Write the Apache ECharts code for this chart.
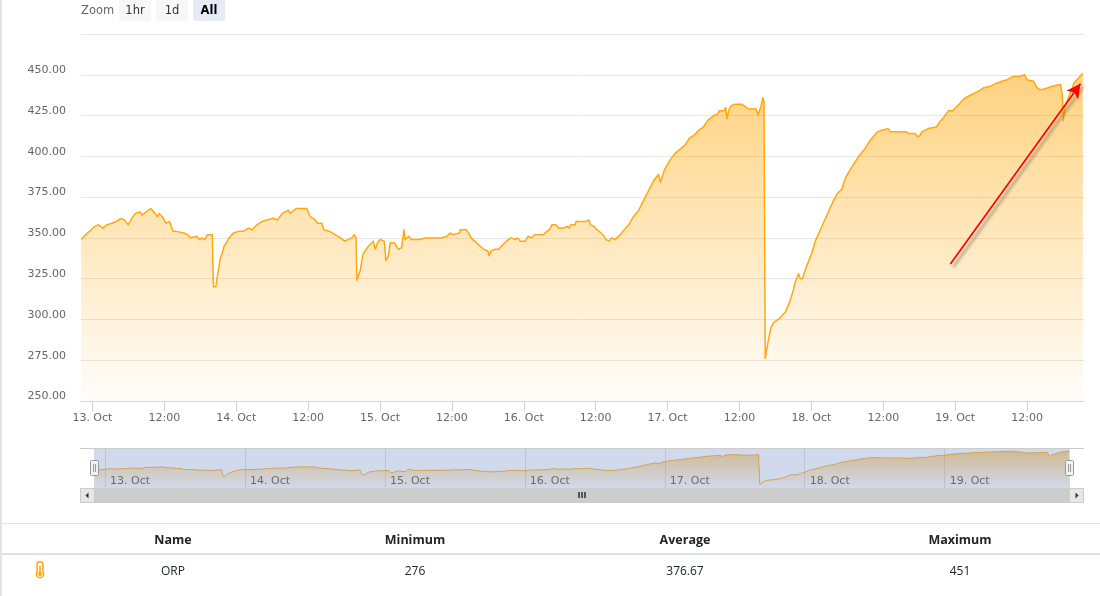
<!DOCTYPE html>
<html><head><meta charset="utf-8">
<style>html,body{margin:0;padding:0;background:#fff}#c{width:1100px;height:596px}</style>
<script src="https://cdn.jsdelivr.net/npm/echarts@6/dist/echarts.min.js"></script>
</head><body><div id="c"></div>
<script>
// hours since 13 Oct 00:00
const hours = [-1.88,-1.38,-0.83,-0.21,0.4,1,1.73,2.4,3.24,3.96,4.74,5.35,5.96,6.58,7.19,7.97,8.3,8.97,9.75,10.2,10.86,11.14,11.7,12.25,12.86,13.48,13.98,15.3,15.87,16.4,17.4,17.87,18.3,18.76,19.2,20,20.2,20.6,20.8,21.1,21.4,21.7,22,22.4,22.8,23.55,24.4,25.2,26.05,26.7,27.45,28.3,29.1,30.2,30.9,31.7,32.7,33,34,35.8,36.35,37.2,37.6,38.3,38.6,39.6,40.5,41.4,42.1,42.3,43.3,43.7,44,44.15,44.4,44.7,45.1,45.5,46.1,46.9,47.2,47.6,48,48.7,49,49.4,49.7,50.4,51.1,51.6,52,52.2,52.8,53.2,53.9,54.7,55.55,56.8,57.1,57.6,57.9,58.2,59.2,59.7,60.2,60.45,61.3,61.4,62.4,62.8,63.2,63.8,64.7,65.3,66,66.2,66.5,67.2,67.8,68,68.3,69.1,69.85,70.6,71,71.4,72.3,72.7,73.4,73.8,75.3,75.85,76.3,76.7,77.35,77.8,78.6,79.2,79.6,79.85,80.6,80.7,82.25,82.9,83.1,83.75,84.2,84.9,85.4,85.7,86.25,86.65,87.25,88.1,88.55,89.5,90.3,91.2,92,92.83,93.66,94.5,94.8,95.05,95.5,96.45,97.3,98.95,99.6,100.45,101.2,102,102.7,103.7,104.4,104.6,105.46,105.7,105.9,106.2,106.6,107.3,108.4,109.5,110.8,111.1,111.6,111.9,112.1,112.15,112.3,112.5,112.85,113.25,113.7,114.8,115.75,116.5,117,117.3,117.85,118.15,118.5,119.25,120.1,120.65,121.5,122.6,123.7,124.3,125.1,125.7,126.5,127.9,129,129.85,131,131.8,132.8,133.2,134.85,135.85,136.2,137.3,137.8,138.2,138.4,139.5,140.85,141.4,142.1,142.9,143.6,144.4,145.4,146.25,147.9,148.75,149.85,151,151.8,152.65,153.75,154.6,154.9,155.6,156,157.1,157.65,158.05,158.65,158.9,160.2,160.4,161.6,161.9,162.05,162.2,162.4,163.2,163.5,163.8,164.6,165.3];
const orp = [349,351,353,355,357,358,356,358,359,360,362,361,358,362,365,366,364,366,368,366,363,365,363,359,360,354,354,353,352,350,351,349,350,349,352,352,320,320,325,332,338,341,345,347,350,353,354,354,356,355,358,360,361,362,361,365,367,365,368,368,363,361,359,359,355,354,352,350,348,349,350,352,350,324,324,330,339,342,345,348,343,347,349,348,336,339,347,347,343,344,355,349,351,349,349,349,350,350,351,350,351,350,351,353,352,353,353,355,355,353,350,348,345,343,342,339,342,343,343,342,345,348,350,349,350,348,348,351,350,352,352,354,355,358,358,356,356,357,356,358,358,360,360,361,358,357,355,353,351,349,348,350,349,352,354,358,363,367,373,379,385,389,384,384,392,398,402,407,411,413,416,418,422,425,426,428,428,430,423,428,431,432,432,429,429,425,431,436,433,382,276,277,288,295,298,301,305,312,318,323,328,325,325,333,341,348,355,364,373,377,380,387,392,400,405,410,415,416,417,415,415,415,414,414,412,413,415,417,418,421,424,428,428,431,435,437,440,442,443,445,446,447,449,449,450,450,447,446,442,441,441,442,443,444,444,437,422,422,431,439,441,445,448,451];
const xDomain = [-1.9, 165.5];
const yTicks = [250, 475, 25];
const tickHours = [0,12,24,36,48,60,72,84,96,108,120,132,144,156];
const tickLabels = ['13. Oct','12:00','14. Oct','12:00','15. Oct','12:00','16. Oct','12:00','17. Oct','12:00','18. Oct','12:00','19. Oct','12:00'];
const navHours = [0,24,48,72,96,120,144];
const navLabels = ['13. Oct','14. Oct','15. Oct','16. Oct','17. Oct','18. Oct','19. Oct'];
const navRange = [257, 467];
const arrowFrom = [143.2, 334];
const arrowTo = [164.9, 444.5];
const zoomButtons = ['1hr','1d','All'];
const tableHeaders = ['Name','Minimum','Average','Maximum'];
const tableRow = ['ORP','276','376.67','451'];

const pts = hours.map((h,i)=>[h,orp[i]]);
const F = 'DejaVu Sans';
const T = 'Open Sans';
const tcol = [173,415,685,960];
const gfx = [];
const txt = (x,y,s,o={}) => gfx.push({type:'text',z:110,x,y,silent:true,style:Object.assign({text:s,fontFamily:T,fontSize:12,fill:'#333',align:'center',verticalAlign:'middle'},o)});
const rect = (x,y,w,h,fill,o={},r=0) => gfx.push({type:'rect',z:o.z||100,silent:true,shape:{x,y,width:w,height:h,r},style:Object.assign({fill},o.style||{})});
// page edge
rect(0,0,2,596,'#e2e2e2');
// range selector
txt(81,11.5,'Zoom',{fontFamily:F,fontSize:11.5,fill:'#666',align:'left'});
zoomButtons.forEach((b,i)=>{
  const x=119+37*i, on=i===2;
  rect(x,-3,32,24,on?'#e6ebf5':'#f7f7f7',{},2);
  txt(x+16,11.5,b,{fontFamily:F,fontSize:11.5,fill:on?'#000':'#333',fontWeight:on?'bold':'normal'});
});
// navigator mask and outline
rect(94,449,976,39,'rgba(102,133,194,0.3)');
rect(80,448,1004,1,'#cccccc',{z:101});
// scrollbar
rect(80,488,1004,15,'#cccccc');
rect(80.5,488.5,14,14,'#e6e6e6',{z:101,style:{stroke:'#cccccc',lineWidth:1}});
rect(1069.5,488.5,14,14,'#e6e6e6',{z:101,style:{stroke:'#cccccc',lineWidth:1}});
gfx.push({type:'polygon',z:102,silent:true,shape:{points:[[85.5,495.5],[88.5,492.5],[88.5,498.5]]},style:{fill:'#333'}});
gfx.push({type:'polygon',z:102,silent:true,shape:{points:[[1078.5,495.5],[1075.5,492.5],[1075.5,498.5]]},style:{fill:'#333'}});
[578,581,584].forEach(x=>rect(x,492,2,6,'#555'));
// navigator handles
[90.5,1065.5].forEach(x=>{
  rect(x,460.5,8,15,'#f2f2f2',{z:103,style:{stroke:'#999',lineWidth:1}},1);
  rect(x+2.5,464,1,8,'#999',{z:104});
  rect(x+4.5,464,1,8,'#999',{z:104});
});
// table
rect(2,523,1098,1,'#dee2e6');
rect(2,553,1098,2,'#dee2e6');
tableHeaders.forEach((s,i)=>txt(tcol[i],540,s,{fontWeight:'bold',fontSize:12.5,fill:'#212529'}));
tableRow.forEach((s,i)=>txt(tcol[i],572,s,{fontSize:12,fill:'#212529'}));
// thermometer icon
gfx.push({type:'circle',z:105,silent:true,shape:{cx:40,cy:574,r:3.6},style:{fill:'#fff',stroke:'#ffa500',lineWidth:1.5}});
rect(37,561.8,6,11.5,'#fff',{z:106,style:{stroke:'#ffa500',lineWidth:1.5}},3);
rect(37.8,570,4.4,3.5,'#fff',{z:107});
gfx.push({type:'circle',z:108,silent:true,shape:{cx:40,cy:574,r:1.9},style:{fill:'#ffa500'}});
rect(39.2,566,1.6,7,'#ffa500',{z:108});

const chart = echarts.init(document.getElementById('c'));
chart.setOption({
  animation:false,
  textStyle:{fontFamily:F},
  grid:[
    {left:81,top:34,width:1003,height:367},
    {left:94,top:448,width:976,height:40}
  ],
  xAxis:[
    {type:'value',gridIndex:0,min:xDomain[0],max:xDomain[1],
     axisLine:{onZero:false,lineStyle:{color:'#ccd6eb',width:1}},
     axisTick:{customValues:tickHours,length:10,lineStyle:{color:'#ccd6eb'}},
     axisLabel:{customValues:tickHours,color:'#666',fontSize:11,fontFamily:F,margin:12,hideOverlap:false,showMinLabel:true,showMaxLabel:true,
       formatter:v=>tickLabels[tickHours.indexOf(v)]},
     splitLine:{show:false}},
    {type:'value',gridIndex:1,min:xDomain[0],max:xDomain[1],
     axisLine:{show:false},
     axisTick:{show:false,customValues:navHours},
     axisLabel:{customValues:navHours,inside:true,align:'left',verticalAlign:'middle',color:'#555',fontSize:11,fontFamily:F,margin:7,padding:[0,0,0,5],hideOverlap:false,
       formatter:v=>navLabels[navHours.indexOf(v)]},
     splitLine:{show:true,lineStyle:{color:'#e0e0e0',width:1}}}
  ],
  yAxis:[
    {type:'value',gridIndex:0,min:yTicks[0],max:yTicks[1],interval:yTicks[2],
     axisLine:{show:false},axisTick:{show:false},
     axisLabel:{color:'#666',fontSize:11,lineHeight:9,fontFamily:F,margin:15,verticalAlign:'bottom',showMaxLabel:false,formatter:v=>v.toFixed(2)},
     splitLine:{lineStyle:{color:'#e6e6e6',width:1}}},
    {type:'value',gridIndex:1,min:navRange[0],max:navRange[1],
     axisLine:{show:false},axisTick:{show:false},axisLabel:{show:false},splitLine:{show:false}}
  ],
  graphic:{elements:gfx},
  series:[
    {type:'line',xAxisIndex:0,yAxisIndex:0,data:pts,showSymbol:false,symbol:'none',silent:true,
     lineStyle:{color:'#ffa80f',width:1.5,join:'round'},
     areaStyle:{opacity:1,origin:'start',color:new echarts.graphic.LinearGradient(0,0,0,1,[{offset:0,color:'rgba(255,165,0,0.5)'},{offset:1,color:'rgba(255,165,0,0.02)'}])},
     markLine:{silent:true,animation:false,symbol:['none','arrow'],symbolSize:[11,14],precision:2,label:{show:false},
       lineStyle:{color:'#ff0000',width:1.7,type:'solid',shadowColor:'rgba(60,60,60,0.55)',shadowBlur:3,shadowOffsetX:3,shadowOffsetY:3},
       data:[[{coord:arrowFrom},{coord:arrowTo}]]}},
    {type:'line',xAxisIndex:1,yAxisIndex:1,data:pts,showSymbol:false,symbol:'none',silent:true,
     lineStyle:{color:'#ffa500',width:1,opacity:0.85},
     areaStyle:{opacity:1,origin:'start',color:new echarts.graphic.LinearGradient(0,0,0,1,[{offset:0,color:'rgba(255,165,0,0.5)'},{offset:1,color:'rgba(255,165,0,0.02)'}])}}
  ]
});
</script></body></html>
